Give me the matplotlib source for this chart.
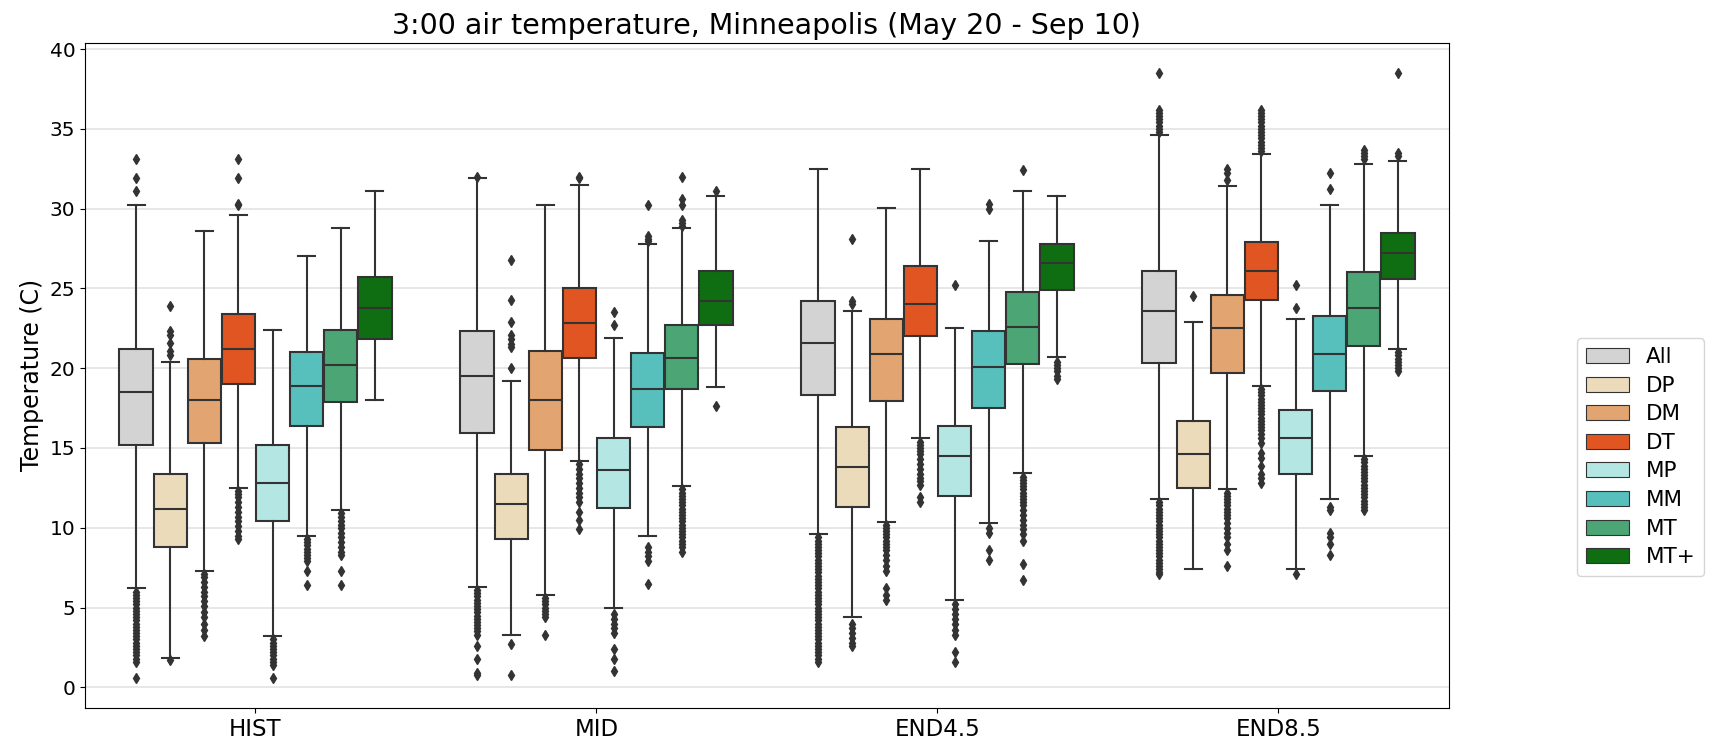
import matplotlib
matplotlib.use("Agg")
from matplotlib import pyplot as plt
from matplotlib.patches import Patch
import numpy as np

periods = ["HIST", "MID", "END4.5", "END8.5"]
groups = ["All", "DP", "DM", "DT", "MP", "MM", "MT", "MT+"]
colors = ["#d3d3d3", "#ecdbbb", "#e2a470", "#e05522",
          "#b4e6e4", "#58c0bc", "#4ba574", "#106e12"]

# box statistics, one row per period, one column per group
whishi = [[30.2, 20.4, 28.6, 29.6, 22.4, 27.0, 28.8, 31.1],
          [31.9, 19.2, 30.2, 31.5, 21.9, 27.8, 28.8, 30.8],
          [32.5, 23.6, 30.05, 32.5, 22.5, 28.0, 31.1, 30.8],
          [34.6, 22.9, 31.4, 33.4, 23.1, 30.2, 32.8, 33.0]]
q3 = [[21.2, 13.4, 20.6, 23.4, 15.2, 21.0, 22.4, 25.7],
      [22.3, 13.4, 21.1, 25.0, 15.6, 20.95, 22.7, 26.1],
      [24.2, 16.3, 23.1, 26.4, 16.4, 22.3, 24.8, 27.8],
      [26.06, 16.7, 24.6, 27.9, 17.4, 23.26, 26.0, 28.5]]
med = [[18.5, 11.2, 18.0, 21.2, 12.8, 18.9, 20.2, 23.8],
       [19.5, 11.5, 18.0, 22.8, 13.6, 18.7, 20.65, 24.2],
       [21.6, 13.8, 20.9, 24.05, 14.5, 20.1, 22.6, 26.6],
       [23.56, 14.65, 22.5, 26.1, 15.65, 20.9, 23.8, 27.2]]
q1 = [[15.2, 8.8, 15.3, 19.0, 10.4, 16.4, 17.9, 21.8],
      [15.95, 9.3, 14.9, 20.65, 11.25, 16.3, 18.7, 22.7],
      [18.35, 11.3, 17.96, 22.0, 12.0, 17.5, 20.25, 24.9],
      [20.35, 12.5, 19.7, 24.3, 13.4, 18.6, 21.4, 25.6]]
whislo = [[6.2, 1.85, 7.3, 12.5, 3.2, 9.5, 11.1, 18.0],
          [6.3, 3.3, 5.8, 14.2, 4.95, 9.5, 12.6, 18.8],
          [9.6, 4.4, 10.35, 15.6, 5.5, 10.3, 13.45, 20.7],
          [11.8, 7.4, 12.45, 18.9, 7.4, 11.8, 14.5, 21.2]]

fliers_hist = [
    [33.1, 31.9, 31.1, 6.0, 5.8, 5.6, 5.4, 5.2, 5.0, 4.8, 4.6, 4.4, 4.2, 4.0,
     3.8, 3.6, 3.4, 3.2, 3.0, 2.8, 2.6, 2.4, 2.2, 2.0, 1.8, 1.6, 0.6],
    [23.9, 22.3, 22.1, 21.6, 21.1, 20.8, 1.7],
    [7.1, 6.9, 6.6, 6.3, 6.0, 5.7, 5.4, 5.1, 4.7, 4.4, 4.0, 3.6, 3.2],
    [33.1, 31.9, 30.3, 30.2, 12.3, 12.1, 11.9, 11.6, 11.3, 11.0, 10.7, 10.4,
     10.1, 9.8, 9.5, 9.3],
    [3.0, 2.8, 2.6, 2.4, 2.2, 2.0, 1.8, 1.6, 1.4, 0.6],
    [9.3, 9.1, 8.9, 8.7, 8.5, 8.3, 8.1, 7.9, 7.3, 6.4],
    [10.9, 10.7, 10.4, 10.2, 10.0, 9.7, 9.4, 9.1, 8.8, 8.5, 8.3, 7.3, 6.4],
    [],
]
fliers_mid = [
    [32.0, 6.1, 5.9, 5.7, 5.5, 5.3, 5.1, 4.9, 4.7, 4.5, 4.3, 4.1, 3.9, 3.7,
     3.5, 3.3, 2.6, 1.8, 0.9, 0.8],
    [26.8, 24.3, 22.9, 22.1, 21.8, 21.5, 21.3, 20.0, 2.7, 0.8],
    [5.6, 5.4, 5.2, 5.0, 4.8, 4.6, 4.4, 3.3],
    [31.9, 32.0, 14.0, 13.7, 13.4, 13.1, 12.8, 12.5, 12.2, 11.9, 11.6, 11.0,
     10.5, 9.9],
    [23.5, 22.7, 4.6, 4.3, 4.0, 3.7, 3.4, 2.4, 1.8, 1.0],
    [30.2, 28.3, 28.1, 28.0, 8.8, 8.5, 8.2, 7.9, 6.5],
    [32.0, 30.6, 30.2, 29.3, 29.1, 28.9, 12.4, 12.2, 12.0, 11.8, 11.6, 11.4,
     11.2, 11.0, 10.8, 10.6, 10.4, 10.2, 10.0, 9.8, 9.6, 9.4, 9.2, 9.0, 8.8,
     8.5],
    [31.1, 17.6],
]
fliers_end45 = [
    [9.4, 9.2, 9.0, 8.8, 8.6, 8.4, 8.2, 8.0, 7.8, 7.6, 7.4, 7.2, 7.0, 6.8,
     6.6, 6.4, 6.2, 6.0, 5.8, 5.6, 5.4, 5.2, 5.0, 4.8, 4.6, 4.4, 4.2, 4.0,
     3.8, 3.6, 3.4, 3.2, 3.0, 2.8, 2.6, 2.4, 2.2, 2.0, 1.8, 1.6],
    [28.1, 24.2, 24.0, 4.0, 3.7, 3.4, 3.1, 2.8, 2.6],
    [10.2, 10.0, 9.8, 9.6, 9.4, 9.2, 9.0, 8.8, 8.6, 8.3, 8.0, 7.6, 7.3, 6.2,
     5.8, 5.5],
    [15.4, 15.2, 15.0, 14.8, 14.6, 14.3, 14.0, 13.7, 13.4, 13.1, 12.9, 12.7,
     11.9, 11.6],
    [25.2, 5.2, 4.9, 4.6, 4.3, 4.0, 3.6, 3.3, 2.2, 1.6],
    [30.3, 30.0, 10.0, 9.7, 8.6, 8.0],
    [32.4, 13.2, 13.0, 12.8, 12.6, 12.4, 12.2, 12.0, 11.8, 11.6, 11.4, 11.1,
     10.8, 10.5, 10.2, 9.9, 9.6, 9.2, 7.7, 6.7],
    [20.4, 20.2, 20.0, 19.8, 19.5, 19.3],
]
fliers_end85 = [
    [38.5, 36.2, 36.0, 35.8, 35.6, 35.4, 35.2, 35.0, 34.8, 11.6, 11.4, 11.2,
     11.0, 10.8, 10.6, 10.4, 10.2, 10.0, 9.8, 9.6, 9.4, 9.2, 9.0, 8.8, 8.6,
     8.4, 8.2, 8.0, 7.8, 7.6, 7.4, 7.2, 7.1],
    [24.5],
    [32.5, 32.2, 31.8, 12.2, 12.0, 11.8, 11.6, 11.4, 11.2, 11.0, 10.8, 10.6,
     10.3, 10.0, 9.7, 9.4, 9.0, 8.6, 7.6],
    [36.2, 36.0, 35.8, 35.6, 35.4, 35.2, 35.0, 34.8, 34.6, 34.4, 34.2, 34.0,
     33.8, 33.6, 18.7, 18.5, 18.3, 18.1, 17.9, 17.7, 17.5, 17.3, 17.1, 16.9,
     16.7, 16.5, 16.3, 16.1, 15.9, 15.6, 15.3, 14.7, 14.4, 13.9, 13.4, 13.1,
     12.8],
    [25.2, 23.8, 7.1],
    [32.2, 31.2, 11.3, 11.1, 9.7, 9.4, 9.0, 8.3],
    [33.7, 33.5, 33.3, 33.1, 14.3, 14.1, 13.9, 13.7, 13.5, 13.3, 13.1, 12.9,
     12.7, 12.5, 12.3, 12.1, 11.9, 11.7, 11.5, 11.3, 11.1],
    [38.5, 33.5, 33.3, 21.0, 20.8, 20.6, 20.4, 20.2, 20.0, 19.8],
]
fliers = [fliers_hist, fliers_mid, fliers_end45, fliers_end85]

line_color = "#333333"
n_hue = len(groups)
box_w = 0.8 / n_hue

fig = plt.figure(figsize=(17.17, 7.52), dpi=100)
ax = fig.add_axes([0.0495, 0.0585, 0.7944, 0.8847])
ax.set_axisbelow(True)
ax.yaxis.grid(True, color="#e3e3e3", linewidth=1.2)

for i in range(len(periods)):
    for j in range(n_hue):
        stats = [dict(med=med[i][j], q1=q1[i][j], q3=q3[i][j],
                      whislo=whislo[i][j], whishi=whishi[i][j],
                      fliers=np.array(fliers[i][j]))]
        pos = i - 0.4 + box_w * (j + 0.5)
        ax.bxp(stats, positions=[pos], widths=box_w * 0.98,
               capwidths=box_w * 0.5, patch_artist=True, manage_ticks=False,
               boxprops=dict(facecolor=colors[j], edgecolor=line_color,
                             linewidth=1.5),
               medianprops=dict(color=line_color, linewidth=1.5),
               whiskerprops=dict(color=line_color, linewidth=1.5),
               capprops=dict(color=line_color, linewidth=1.5),
               flierprops=dict(marker="d", markerfacecolor=line_color,
                               markeredgecolor=line_color, markersize=5))

ax.set_xlim(-0.5, len(periods) - 0.5)
ax.set_xticks(range(len(periods)))
ax.set_xticklabels(periods, fontsize=16.5)
ax.set_yticks(range(0, 41, 5))
ax.tick_params(axis="y", labelsize=14.5)
ax.set_ylabel("Temperature (C)", fontsize=17)
ax.set_title("3:00 air temperature, Minneapolis (May 20 - Sep 10)",
             fontsize=20.5)

handles = [Patch(facecolor=c, edgecolor=line_color, linewidth=0.8, label=g)
           for g, c in zip(groups, colors)]
ax.legend(handles=handles, loc="center left", bbox_to_anchor=(1.094, 0.377),
          borderaxespad=0, fontsize=15.5, labelspacing=0.4)

plt.savefig("out.png", dpi=100)
